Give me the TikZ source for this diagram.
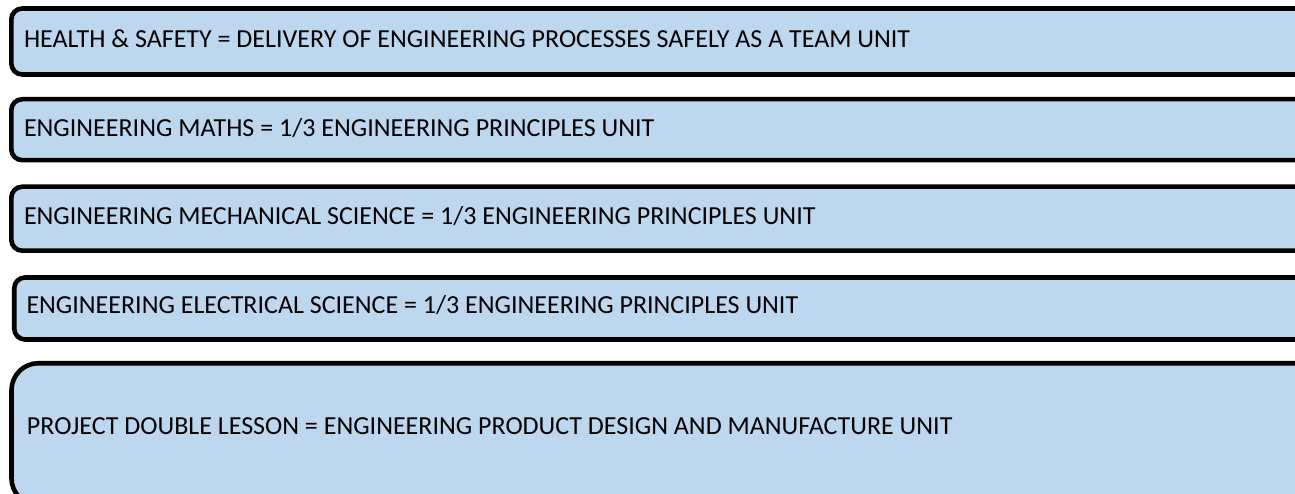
\documentclass[tikz,border=0pt]{standalone}
\usepackage{fontspec}
\setmainfont{Carlito}
\definecolor{boxfill}{RGB}{189,215,238}
\begin{document}
\begin{tikzpicture}[x=1pt,y=1pt,
  unitbox/.style={draw=black, fill=boxfill, line width=4.6pt, anchor=north west, inner sep=0pt, outer sep=0pt},
  lbl/.style={anchor=base west, inner sep=0pt, outer sep=0pt, font=\fontsize{26}{31}\selectfont, text=black}]
\useasboundingbox (0,0) rectangle (1295,-494);
\clip (0,0) rectangle (1295,-494);
\fill[white] (0,0) rectangle (1295,-494);
% boxes
\node[unitbox, rounded corners=11pt, minimum width=1310pt, minimum height=66pt] (b1) at (11.3,-8.5) {};
\node[unitbox, rounded corners=11pt, minimum width=1310pt, minimum height=61pt] (b2) at (11.3,-99.2) {};
\node[unitbox, rounded corners=11pt, minimum width=1310pt, minimum height=64pt] (b3) at (11.3,-186.7) {};
\node[unitbox, rounded corners=11pt, minimum width=1310pt, minimum height=62pt] (b4) at (14.2,-277.5) {};
\node[unitbox, rounded corners=27pt, minimum width=1310pt, minimum height=142pt] (b5) at (11.5,-363.2) {};
% labels
\node[lbl] (t1) at (24,-47.3) {HEALTH \& SAFETY = DELIVERY OF ENGINEERING PROCESSES SAFELY AS A TEAM UNIT};
\node[lbl] (t2) at (24,-136.7) {ENGINEERING MATHS = 1/3 ENGINEERING PRINCIPLES UNIT};
\node[lbl] (t3) at (24,-225) {ENGINEERING MECHANICAL SCIENCE = 1/3 ENGINEERING PRINCIPLES UNIT};
\node[lbl] (t4) at (26.5,-313.5) {ENGINEERING ELECTRICAL SCIENCE = 1/3 ENGINEERING PRINCIPLES UNIT};
\node[lbl] (t5) at (27,-434.5) {PROJECT DOUBLE LESSON = ENGINEERING PRODUCT DESIGN AND MANUFACTURE UNIT};
\end{tikzpicture}
\end{document}
